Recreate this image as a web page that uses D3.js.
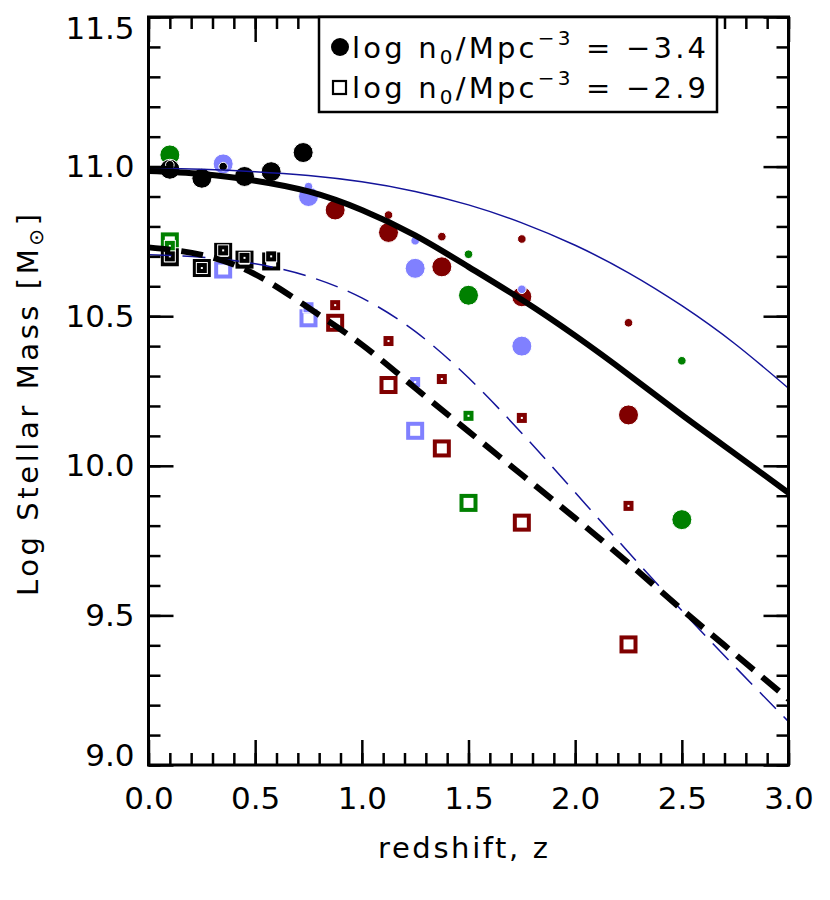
<!DOCTYPE html>
<html>
<head>
<meta charset="utf-8">
<script src="https://cdn.jsdelivr.net/npm/d3@7"></script>
<style>
  body { margin: 0; background: #fff; }
  svg { display: block; }
  text { font-family: "DejaVu Sans", sans-serif; fill: #000; }
</style>
</head>
<body>
<svg id="chart" width="830" height="900"></svg>
<script>
// ---------------- DATA ----------------
const xTicks = [0.0, 0.5, 1.0, 1.5, 2.0, 2.5, 3.0];
const yTicks = [9.0, 9.5, 10.0, 10.5, 11.0, 11.5];
const tickLabelsX = ["0.0", "0.5", "1.0", "1.5", "2.0", "2.5", "3.0"];
const tickLabelsY = ["9.0", "9.5", "10.0", "10.5", "11.0", "11.5"];

// model curves
const curveZ = [0, 0.25, 0.5, 0.75, 1.0, 1.25, 1.5, 1.75, 2.0, 2.25, 2.5, 2.75, 3.0];
const solidBlack = [10.985, 10.975, 10.953, 10.917, 10.855, 10.77, 10.665, 10.555, 10.435, 10.305, 10.17, 10.04, 9.91];
const solidBlue  = [10.995, 10.991, 10.983, 10.970, 10.949, 10.917, 10.872, 10.812, 10.737, 10.645, 10.535, 10.407, 10.259];
const dashBlack  = [10.73, 10.705, 10.64, 10.528, 10.405, 10.26, 10.115, 9.97, 9.825, 9.675, 9.52, 9.37, 9.22];
const dashBlue   = [10.705, 10.697, 10.675, 10.633, 10.561, 10.449, 10.294, 10.109, 9.911, 9.711, 9.516, 9.328, 9.145];

// log n0 = -3.4 (filled circles): [z, logM]
const circBigGreen   = [[0.1, 11.039], [1.5, 10.57], [2.5, 9.82]];
const circBigBlue    = [[0.35, 11.009], [0.75, 10.90], [1.25, 10.66], [1.75, 10.40]];
const circBigRed     = [[0.875, 10.855], [1.125, 10.78], [1.375, 10.665], [1.75, 10.565], [2.25, 10.17]];
const circBigBlack   = [[0.1, 10.991], [0.25, 10.961], [0.45, 10.967], [0.575, 10.983], [0.725, 11.047]];
const circSmallGreen = [[1.5, 10.707], [2.5, 10.351]];
const circSmallBlue  = [[0.75, 10.933], [1.25, 10.752], [1.75, 10.59]];
const circSmallRed   = [[1.125, 10.838], [1.375, 10.766], [1.75, 10.758], [2.25, 10.478]];
const circSmallBlack = [[0.1, 11.006], [0.35, 11.0]];

// log n0 = -2.9 (open squares): [z, logM]
const sqBigGreen   = [[0.1, 10.75], [1.5, 9.876]];
const sqBigBlue    = [[0.35, 10.656], [0.75, 10.493], [1.25, 10.117]];
const sqBigRed     = [[0.875, 10.478], [1.125, 10.27], [1.375, 10.058], [1.75, 9.81], [2.25, 9.403]];
const sqBigBlack   = [[0.1, 10.697], [0.25, 10.661], [0.35, 10.715], [0.45, 10.689], [0.575, 10.683]];
const sqSmallGreen = [[0.1, 10.735], [1.5, 10.167]];
const sqSmallBlue  = [[0.75, 10.53], [1.25, 10.28]];
const sqSmallRed   = [[0.875, 10.537], [1.125, 10.417], [1.375, 10.29], [1.75, 10.16], [2.25, 9.866]];
const sqSmallBlack = [[0.1, 10.70], [0.25, 10.661], [0.35, 10.72], [0.45, 10.695], [0.575, 10.70]];

const legendLabels = ["= \u22123.4", "= \u22122.9"];

// ---------------- STYLE ----------------
const C = { green: "#008000", blue: "#8080ff", red: "#800000", black: "#000000", navy: "#14149a" };

const svg = d3.select("#chart");
const L = 148.5, R = 788.5, T = 17, B = 765;
const x = d3.scaleLinear().domain([0, 3]).range([L, R]);
const y = d3.scaleLinear().domain([9, 11.5]).range([B, T]);

const minorX = d3.range(0, 31).map(i => i / 10);
const minorY = d3.range(90, 116).map(i => i / 10);

// markers
const gM = svg.append("g");
function circles(data, r, color) {
  gM.append("g").selectAll("circle").data(data).join("circle")
    .attr("cx", d => x(d[0])).attr("cy", d => y(d[1])).attr("r", r)
    .attr("fill", color).attr("stroke", "#fff").attr("stroke-width", 1);
}
function squares(data, s, color) {
  const g = gM.append("g");
  g.selectAll("rect.h").data(data).join("rect").attr("class", "h")
    .attr("x", d => x(d[0]) - s / 2).attr("y", d => y(d[1]) - s / 2)
    .attr("width", s).attr("height", s)
    .attr("fill", "none").attr("stroke", "#fff").attr("stroke-width", 6);
  g.selectAll("rect.m").data(data).join("rect").attr("class", "m")
    .attr("x", d => x(d[0]) - s / 2).attr("y", d => y(d[1]) - s / 2)
    .attr("width", s).attr("height", s)
    .attr("fill", "none").attr("stroke", color).attr("stroke-width", 4);
}
circles(circBigGreen, 10, C.green);
circles(circBigBlue, 10, C.blue);
circles(circBigRed, 10, C.red);
circles(circBigBlack, 10, C.black);
circles(circSmallGreen, 4.3, C.green);
circles(circSmallBlue, 4.3, C.blue);
circles(circSmallRed, 4.3, C.red);
circles(circSmallBlack, 4.3, C.black);
squares(sqBigGreen, 14, C.green);
squares(sqBigBlue, 14, C.blue);
squares(sqBigRed, 14, C.red);
squares(sqBigBlack, 14, C.black);
squares(sqSmallGreen, 6, C.green);
squares(sqSmallBlue, 6, C.blue);
squares(sqSmallRed, 6, C.red);
squares(sqSmallBlack, 6, C.black);

// curves
const line = d3.line().x(d => x(d[0])).y(d => y(d[1])).curve(d3.curveNatural);
svg.append("clipPath").attr("id", "clip").append("rect")
  .attr("x", L).attr("y", T).attr("width", R - L).attr("height", B - T);
const gL = svg.append("g").attr("clip-path", "url(#clip)");
function drawCurve(vals, color, w, dash) {
  gL.append("path").datum(curveZ.map((z, i) => [z, vals[i]]))
    .attr("d", line).attr("fill", "none").attr("stroke", color)
    .attr("stroke-width", w).attr("stroke-dasharray", dash || null);
}
drawCurve(solidBlue, C.navy, 1.5);
drawCurve(dashBlue, C.navy, 1.5, "23,11");
drawCurve(solidBlack, C.black, 6);
drawCurve(dashBlack, C.black, 6, "22,11");

// axes
function styleAxis(g) {
  g.select(".domain").remove();
  g.selectAll(".tick line").attr("stroke", "#000").attr("stroke-width", 2.5);
  g.selectAll("text").style("font-family", "DejaVu Sans, sans-serif").attr("fill", "#000");
}
const fontSize = 31;
// bottom
svg.append("g").attr("transform", `translate(0,${B})`)
  .call(d3.axisBottom(x).tickValues(minorX).tickSize(-12).tickFormat("")).call(styleAxis);
svg.append("g").attr("transform", `translate(0,${B})`)
  .call(d3.axisBottom(x).tickValues(xTicks).tickSize(-25).tickPadding(22)
    .tickFormat((d, i) => tickLabelsX[i])).call(styleAxis)
  .selectAll("text").attr("font-size", fontSize);
// top
svg.append("g").attr("transform", `translate(0,${T})`)
  .call(d3.axisTop(x).tickValues(minorX).tickSize(-12).tickFormat("")).call(styleAxis);
svg.append("g").attr("transform", `translate(0,${T})`)
  .call(d3.axisTop(x).tickValues(xTicks).tickSize(-25).tickFormat("")).call(styleAxis);
// left
svg.append("g").attr("transform", `translate(${L},0)`)
  .call(d3.axisLeft(y).tickValues(minorY).tickSize(-12).tickFormat("")).call(styleAxis);
const yLab = svg.append("g").attr("transform", `translate(${L},0)`)
  .call(d3.axisLeft(y).tickValues(yTicks).tickSize(-25).tickPadding(14)
    .tickFormat((d, i) => tickLabelsY[i])).call(styleAxis);
yLab.selectAll("text").attr("font-size", fontSize)
  .attr("dy", (d, i) => i === 0 ? "0.0em" : (i === yTicks.length - 1 ? "0.68em" : "0.32em"));
// right
svg.append("g").attr("transform", `translate(${R},0)`)
  .call(d3.axisRight(y).tickValues(minorY).tickSize(-12).tickFormat("")).call(styleAxis);
svg.append("g").attr("transform", `translate(${R},0)`)
  .call(d3.axisRight(y).tickValues(yTicks).tickSize(-25).tickFormat("")).call(styleAxis);

// frame
svg.append("rect").attr("x", L).attr("y", T).attr("width", R - L).attr("height", B - T)
  .attr("fill", "none").attr("stroke", "#000").attr("stroke-width", 3);

// axis titles
svg.append("text").attr("x", 463).attr("y", 858).attr("text-anchor", "middle")
  .attr("font-size", 29).attr("textLength", 170).text("redshift, z");
const yt = svg.append("text").attr("transform", "translate(38,405) rotate(-90)")
  .attr("text-anchor", "middle").attr("font-size", 29).attr("textLength", 382);
yt.append("tspan").text("Log Stellar Mass [M");
yt.append("tspan").attr("font-size", 20).attr("dy", 5).text("\u2299");
yt.append("tspan").attr("dy", -5).text("]");

// legend
const lg = svg.append("g");
lg.append("rect").attr("x", 319).attr("y", 17).attr("width", 398).attr("height", 95)
  .attr("fill", "#fff").attr("stroke", "#000").attr("stroke-width", 2.5);
lg.append("circle").attr("cx", 340).attr("cy", 47).attr("r", 9).attr("fill", "#000");
lg.append("rect").attr("x", 333).attr("y", 81).attr("width", 13).attr("height", 13)
  .attr("fill", "none").attr("stroke", "#000").attr("stroke-width", 2.2);
legendLabels.forEach((lab, i) => {
  const t = lg.append("text").attr("x", 352).attr("y", 58 + i * 40)
    .attr("font-size", 29).attr("textLength", 354).style("white-space", "pre");
  t.append("tspan").text("log n");
  t.append("tspan").attr("font-size", 20).attr("dy", 6).text("0");
  t.append("tspan").attr("dy", -6).text("/Mpc");
  t.append("tspan").attr("font-size", 20).attr("dy", -13).text("\u22123");
  t.append("tspan").attr("dy", 13).text(" " + lab);
});
</script>
</body>
</html>
